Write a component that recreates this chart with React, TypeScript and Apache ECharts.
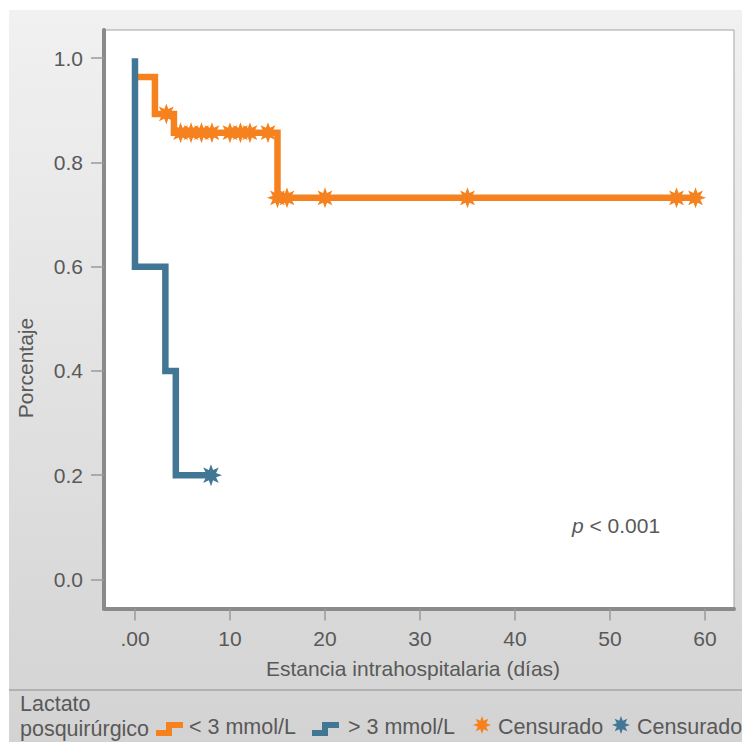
import React, { useEffect, useRef } from "react";
import * as echarts from "echarts";

// ---- data ----
const xTicks = [0, 10, 20, 30, 40, 50, 60];
const yTicks = [0, 0.2, 0.4, 0.6, 0.8, 1.0];

// Kaplan-Meier steps (day, survival)
const lowLactateDays = [0, 2.1, 4.1, 15, 59];
const lowLactateSurv = [0.964, 0.893, 0.857, 0.732, 0.732];
const highLactateDays = [0, 0, 3.2, 4.3, 8];
const highLactateSurv = [1.0, 0.6, 0.4, 0.2, 0.2];

// censored observations
const lowCensoredDays = [3.3, 4.8, 5.9, 7, 8.1, 10, 11.1, 12.1, 14, 15, 16, 20, 35, 57, 59];
const lowCensoredSurv = [0.893, 0.857, 0.857, 0.857, 0.857, 0.857, 0.857, 0.857, 0.857, 0.732, 0.732, 0.732, 0.732, 0.732, 0.732];
const highCensoredDays = [8];
const highCensoredSurv = [0.2];

const legendLabels = ["< 3 mmol/L", "> 3 mmol/L", "Censurado", "Censurado"];

const ORANGE = "#f5821f";
const BLUE = "#417795";
const TEXT = "#595959";
const FONT = "'Liberation Sans', Arial, sans-serif";

function starPoints(cx: number, cy: number, rOut: number, rIn: number) {
  const pts: number[][] = [];
  for (let i = 0; i < 16; i++) {
    const a = -Math.PI / 2 + (i * Math.PI) / 8;
    const r = i % 2 === 0 ? rOut : rIn;
    pts.push([+(cx + r * Math.cos(a)).toFixed(2), +(cy + r * Math.sin(a)).toFixed(2)]);
  }
  return pts;
}
const STAR_PATH =
  "path://M" + starPoints(10, 10, 10, 5).map((p) => p.join(" ")).join(" L ") + " Z";

const zip = (a: number[], b: number[]) => a.map((v, i) => [v, b[i]]);

export default function App() {
  const ref = useRef<HTMLDivElement>(null);
  useEffect(() => {
    if (!ref.current) return;
    const chart = echarts.init(ref.current, undefined, { renderer: "svg" });
    const legendFont = `21.5px ${FONT}`;
    const option: any = {
      animation: false,
      grid: {
        left: 104,
        right: 8,
        top: 30,
        bottom: 133.5,
        show: true,
        backgroundColor: "#ffffff",
        borderColor: "#a3a3a3",
        borderWidth: 1,
      },
      xAxis: {
        type: "value",
        min: -3.26,
        max: 63.05,
        axisLine: { show: true, onZero: false, lineStyle: { color: "#8a8a8a", width: 4 } },
        axisTick: {
          show: true,
          inside: false,
          length: 12,
          customValues: xTicks,
          lineStyle: { color: "#9a9a9a", width: 1.5 },
        },
        axisLabel: {
          customValues: xTicks,
          margin: 19,
          color: TEXT,
          fontSize: 21,
          fontFamily: FONT,
          formatter: (v: number) => (v === 0 ? ".00" : String(v)),
        },
        splitLine: { show: false },
      },
      yAxis: {
        type: "value",
        min: -0.0557,
        max: 1.054,
        axisLine: { show: true, onZero: false, lineStyle: { color: "#8a8a8a", width: 4 } },
        axisTick: {
          show: true,
          inside: false,
          length: 13,
          customValues: yTicks,
          lineStyle: { color: "#9a9a9a", width: 1.5 },
        },
        axisLabel: {
          customValues: yTicks,
          margin: 21,
          color: TEXT,
          fontSize: 21,
          fontFamily: FONT,
          formatter: (v: number) => v.toFixed(1),
        },
        splitLine: { show: false },
      },
      series: [
        {
          type: "line",
          step: "end",
          data: zip(lowLactateDays, lowLactateSurv),
          showSymbol: false,
          symbol: "none",
          lineStyle: { color: ORANGE, width: 6.5, cap: "butt", join: "miter" },
          z: 2,
        },
        {
          type: "line",
          step: "end",
          data: zip(highLactateDays, highLactateSurv),
          showSymbol: false,
          symbol: "none",
          lineStyle: { color: BLUE, width: 6.5, cap: "butt", join: "miter" },
          z: 3,
        },
        {
          type: "scatter",
          data: zip(lowCensoredDays, lowCensoredSurv),
          symbol: STAR_PATH,
          symbolSize: 21,
          itemStyle: { color: ORANGE, opacity: 1 },
          z: 4,
        },
        {
          type: "scatter",
          data: zip(highCensoredDays, highCensoredSurv),
          symbol: STAR_PATH,
          symbolSize: 22,
          itemStyle: { color: BLUE, opacity: 1 },
          z: 4,
        },
      ],
      graphic: [
        {
          type: "rect",
          z: -100,
          silent: true,
          shape: { x: 9, y: 10, width: 733, height: 732 },
          style: {
            fill: new echarts.graphic.LinearGradient(0, 0, 0, 1, [
              { offset: 0, color: "#f1f1f1" },
              { offset: 1, color: "#d3d3d3" },
            ]),
          },
        },
        {
          type: "line",
          z: -50,
          shape: { x1: 9, y1: 690, x2: 742, y2: 690 },
          style: { stroke: "#8f8f8f", lineWidth: 1 },
        },
        {
          type: "text",
          x: 25,
          y: 368,
          rotation: Math.PI / 2,
          style: {
            text: "Porcentaje",
            fill: TEXT,
            font: `21px ${FONT}`,
            align: "center",
            verticalAlign: "middle",
          },
        },
        {
          type: "text",
          x: 413,
          y: 668,
          style: {
            text: "Estancia intrahospitalaria (días)",
            fill: TEXT,
            font: `21px ${FONT}`,
            align: "center",
            verticalAlign: "middle",
          },
        },
        {
          type: "text",
          x: 572,
          y: 525,
          style: {
            text: "{i|p} < 0.001",
            fill: TEXT,
            font: `21px ${FONT}`,
            verticalAlign: "middle",
            rich: { i: { fontStyle: "italic", fontSize: 21, fontFamily: FONT, fill: TEXT } },
          },
        },
        // legend
        {
          type: "text",
          x: 20,
          y: 704,
          style: { text: "Lactato", fill: TEXT, font: legendFont, verticalAlign: "middle" },
        },
        {
          type: "text",
          x: 20,
          y: 729,
          style: { text: "posquirúrgico", fill: TEXT, font: legendFont, verticalAlign: "middle" },
        },
        {
          type: "polyline",
          shape: { points: [[156, 733], [169, 733], [169, 725], [183, 725]] },
          style: { stroke: ORANGE, lineWidth: 6, fill: null, lineJoin: "miter" },
        },
        {
          type: "text",
          x: 189,
          y: 727,
          style: { text: legendLabels[0], fill: TEXT, font: legendFont, verticalAlign: "middle" },
        },
        {
          type: "polyline",
          shape: { points: [[312, 733], [325, 733], [325, 725], [339, 725]] },
          style: { stroke: BLUE, lineWidth: 6, fill: null, lineJoin: "miter" },
        },
        {
          type: "text",
          x: 348,
          y: 727,
          style: { text: legendLabels[1], fill: TEXT, font: legendFont, verticalAlign: "middle" },
        },
        {
          type: "polygon",
          shape: { points: starPoints(482, 725, 9, 4.5) },
          style: { fill: ORANGE },
        },
        {
          type: "text",
          x: 498,
          y: 727,
          style: { text: legendLabels[2], fill: TEXT, font: legendFont, verticalAlign: "middle" },
        },
        {
          type: "polygon",
          shape: { points: starPoints(621, 725, 9, 4.5) },
          style: { fill: BLUE },
        },
        {
          type: "text",
          x: 637,
          y: 727,
          style: { text: legendLabels[3], fill: TEXT, font: legendFont, verticalAlign: "middle" },
        },
      ],
    };
    chart.setOption(option);
    return () => chart.dispose();
  }, []);
  return (
    <div
      ref={ref}
      style={{ position: "fixed", left: 0, top: 0, width: 742, height: 742, background: "#ffffff" }}
    />
  );
}
